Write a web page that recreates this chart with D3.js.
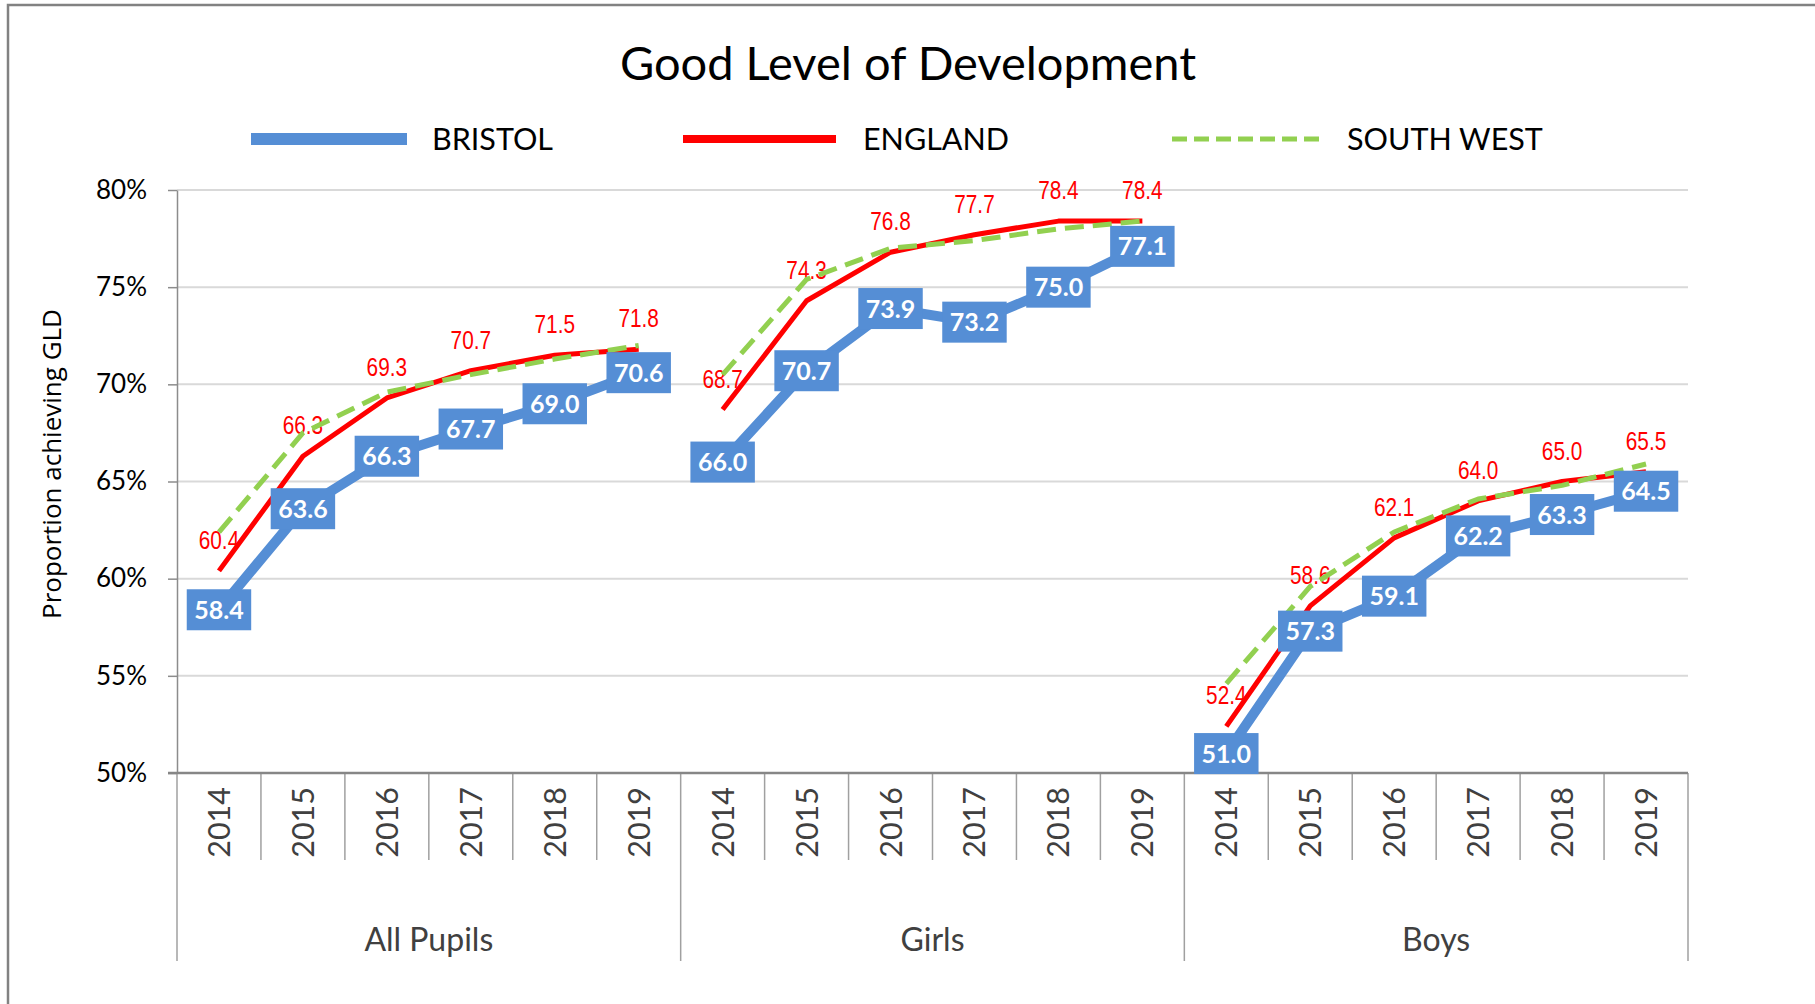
<!DOCTYPE html>
<html><head><meta charset="utf-8">
<script src="https://cdn.jsdelivr.net/npm/d3@7"></script>
<style>body{margin:0;background:#fff;} svg{display:block}</style>
</head><body>
<svg id="chart" width="1815" height="1004"></svg>
<script>
const groups = ["All Pupils","Girls","Boys"];
const years = ["2014","2015","2016","2017","2018","2019"];
const bristol = [58.4,63.6,66.3,67.7,69.0,70.6, 66.0,70.7,73.9,73.2,75.0,77.1, 51.0,57.3,59.1,62.2,63.3,64.5];
const england = [60.4,66.3,69.3,70.7,71.5,71.8, 68.7,74.3,76.8,77.7,78.4,78.4, 52.4,58.6,62.1,64.0,65.0,65.5];
const southWest = [62.4,67.5,69.6,70.5,71.3,72.0, 70.5,75.4,77.0,77.4,78.0,78.4, 54.6,59.6,62.4,64.1,64.8,65.9];
const yTicks = [50,55,60,65,70,75,80];
const seriesNames = ["BRISTOL","ENGLAND","SOUTH WEST"];
const titleText = "Good Level of Development";
const yTitle = "Proportion achieving GLD";

(function(){
const BLUE="#558ED5", RED="#FF0000", GREEN="#92D050";
const svg = d3.select("#chart");
const pLeft=177, pRight=1688, pTop=190, pBottom=773;
const keys = groups.flatMap(g=>years.map(yr=>g+"|"+yr));
const x = d3.scaleBand().domain(keys).range([pLeft,pRight]).padding(0);
const y = d3.scaleLinear().domain([50,80]).range([pBottom,pTop]);
const bw = x.bandwidth();
const cx = i => x(keys[i]) + bw/2;

// frame
svg.append("rect").attr("x",8).attr("y",5).attr("width",1840).attr("height",1040)
  .attr("fill","#fff").attr("stroke","#828282").attr("stroke-width",2.5);

// title
svg.append("text").attr("x",908).attr("y",80).attr("text-anchor","middle")
  .attr("font-family","Lato").attr("font-size",47).attr("fill","#000").text(titleText);

// legend
const legend = [
  {name:seriesNames[0], x1:251, x2:407, color:BLUE, w:12, dash:null, tx:432},
  {name:seriesNames[1], x1:683, x2:836, color:RED, w:8, dash:null, tx:863},
  {name:seriesNames[2], x1:1172, x2:1325, color:GREEN, w:5, dash:"15,7", tx:1347}
];
legend.forEach(l=>{
  svg.append("line").attr("x1",l.x1).attr("x2",l.x2).attr("y1",139).attr("y2",139)
    .attr("stroke",l.color).attr("stroke-width",l.w).attr("stroke-dasharray",l.dash);
  svg.append("text").attr("x",l.tx).attr("y",150).attr("font-family","Lato")
    .attr("font-size",30.5).attr("fill","#000").text(l.name);
});

// gridlines
svg.append("g").selectAll("line").data(yTicks.filter(t=>t>50)).join("line")
  .attr("x1",pLeft).attr("x2",pRight).attr("y1",d=>y(d)).attr("y2",d=>y(d))
  .attr("stroke","#d9d9d9").attr("stroke-width",2);

// y axis
const yAxis = svg.append("g").attr("transform",`translate(${pLeft},0)`)
  .call(d3.axisLeft(y).tickValues(yTicks).tickSize(9).tickSizeOuter(0).tickPadding(21).tickFormat(d=>d+"%"));
yAxis.select(".domain").attr("stroke","#8c8c8c").attr("stroke-width",1.5);
yAxis.selectAll(".tick line").attr("stroke","#8c8c8c").attr("stroke-width",1.5);
yAxis.selectAll(".tick text").attr("font-family","Lato").attr("font-size",26).attr("fill","#000");

// y title
svg.append("text").attr("transform","translate(52,464) rotate(-90)").attr("text-anchor","middle")
  .attr("dy","0.35em").attr("font-family","Open Sans").attr("font-size",26).attr("fill","#000").text(yTitle);

// category separators
d3.range(0,keys.length+1).forEach(i=>{
  const xp = pLeft + i*bw;
  svg.append("line").attr("x1",xp).attr("x2",xp).attr("y1",pBottom).attr("y2", i%6===0?961:860)
    .attr("stroke","#a0a0a0").attr("stroke-width",1.5);
});

// x axis (years)
const xAxis = svg.append("g").attr("transform",`translate(0,${pBottom})`)
  .call(d3.axisBottom(x).tickSize(0).tickFormat(d=>d.split("|")[1]));
xAxis.select(".domain").remove();
xAxis.selectAll(".tick text").attr("transform","rotate(-90)").attr("text-anchor","end")
  .attr("x",-14).attr("y",0).attr("dy","0.36em")
  .attr("font-family","Lato").attr("font-size",30.5).attr("fill","#404040");
svg.append("line").attr("x1",168).attr("x2",pRight).attr("y1",pBottom).attr("y2",pBottom)
  .attr("stroke","#868686").attr("stroke-width",2.5);

// group labels
groups.forEach((g,gi)=>{
  svg.append("text").attr("x",pLeft + bw*(gi*6+3)).attr("y",940).attr("dy","0.35em")
    .attr("text-anchor","middle").attr("font-family","Lato").attr("font-size",32)
    .attr("fill","#404040").text(g);
});

// lines
const line = d3.line().x(d=>cx(d.i)).y(d=>y(d.v));
function drawSeries(vals,color,w,dash){
  groups.forEach((g,gi)=>{
    const pts = d3.range(gi*6,gi*6+6).map(i=>({i,v:vals[i]}));
    svg.append("path").attr("d",line(pts)).attr("fill","none").attr("stroke",color)
      .attr("stroke-width",w).attr("stroke-dasharray",dash).attr("stroke-linejoin","round");
  });
}
drawSeries(bristol,BLUE,10,null);
drawSeries(england,RED,5,null);

// England labels (condensed)
svg.append("g").selectAll("text").data(england).join("text")
  .attr("transform",(d,i)=>`translate(${cx(i)},${y(d)-31}) scale(0.8,1)`)
  .attr("dy","0.35em").attr("text-anchor","middle")
  .attr("font-family","'Liberation Sans',Arial,sans-serif").attr("font-size",26)
  .attr("fill",RED).text(d=>d.toFixed(1));

drawSeries(southWest,GREEN,5,"19,9");

// Bristol labels
const bl = svg.append("g").selectAll("g").data(bristol).join("g")
  .attr("transform",(d,i)=>`translate(${cx(i)},${y(d)})`);
bl.append("rect").attr("fill",BLUE);
bl.append("text").attr("text-anchor","middle").attr("dy","0.36em").attr("font-family","Lato")
  .attr("font-weight","bold").attr("font-size",25).attr("fill","#fff").text(d=>d.toFixed(1));
bl.each(function(){
  const t = d3.select(this).select("text").node().getComputedTextLength();
  const w = Math.max(64, t+15), h=41;
  d3.select(this).select("rect").attr("x",-w/2).attr("y",-h/2).attr("width",w).attr("height",h);
});
})();
</script>
</body></html>
